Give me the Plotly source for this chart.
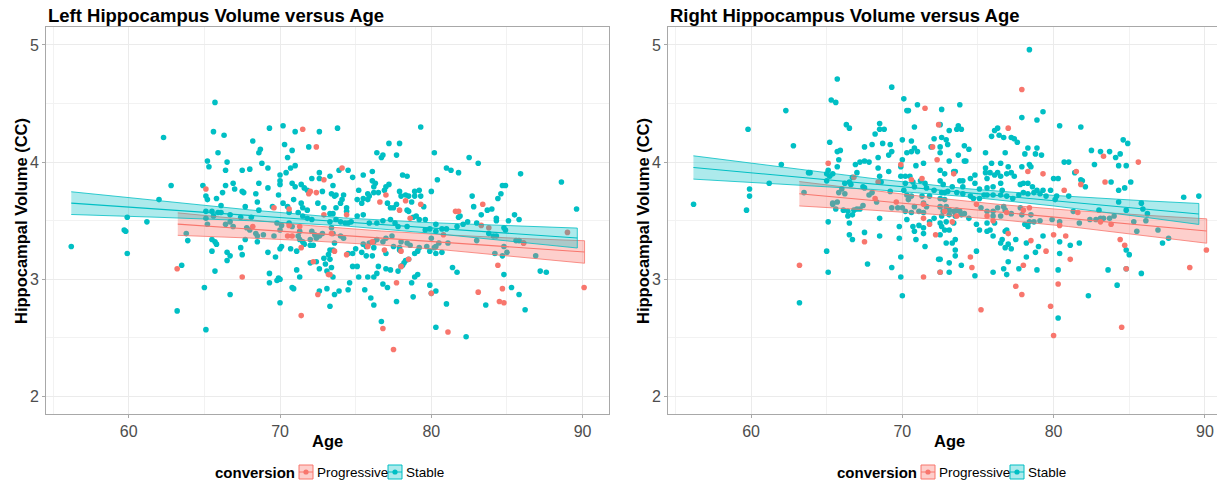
import plotly.graph_objects as go

# ---------------- data (age, volume) ----------------
left_stable = [
(65.7,4.51),(62.3,4.21),(65.6,4.26),(66.3,4.23),(69.3,4.29),(70.2,4.31),(71.0,4.26),(72.6,4.26),(68.2,4.18),(68.7,4.11),(68.6,4.08),(65.9,4.08),(70.3,4.15),(70.8,4.10),(71.9,4.13),(70.5,4.04),(65.2,4.01),(66.5,4.00),(65.3,3.96),(66.4,3.93),(67.5,3.93),(68.0,3.94),(68.8,3.99),(69.2,3.95),(71.0,3.97),(70.7,3.95),(70.4,3.91),(70.0,3.89),(70.0,3.84),(70.0,3.81),(62.8,3.80),(64.9,3.80),(66.4,3.80),(66.9,3.82),(67.0,3.77),(67.6,3.74),(67.5,3.75),(68.4,3.73),(68.6,3.82),(69.2,3.78),(66.2,3.74),(65.8,3.69),(65.1,3.71),(65.2,3.68),(70.8,3.82),(71.0,3.79),(71.4,3.81),(71.6,3.78),(71.8,3.76),(72.8,3.75),(72.6,3.86),(72.1,3.86),(73.3,3.88),(72.6,3.91),(62.0,3.68),(65.1,3.58),(65.5,3.58),(65.9,3.57),(66.1,3.57),(66.1,3.63),(65.6,3.54),(65.1,3.52),(65.2,3.47),(66.7,3.55),(66.7,3.49),(67.4,3.53),(67.7,3.62),(68.1,3.53),(68.5,3.66),(68.6,3.59),(69.5,3.62),(69.9,3.72),(70.2,3.65),(70.5,3.62),(70.6,3.57),(70.9,3.68),(71.4,3.65),(71.5,3.61),(71.2,3.57),(71.5,3.54),(71.8,3.59),(71.8,3.52),(72.1,3.51),(72.5,3.65),(72.9,3.61),(59.9,3.53),(61.2,3.49),(59.7,3.42),(59.8,3.41),(59.9,3.22),(56.2,3.28),(63.8,3.39),(63.9,3.33),(65.5,3.34),(65.7,3.32),(65.8,3.30),(65.5,3.24),(66.4,3.47),(66.9,3.45),(67.8,3.44),(68.0,3.42),(68.4,3.39),(68.5,3.37),(68.5,3.32),(67.7,3.34),(66.5,3.23),(66.7,3.20),(66.5,3.16),(67.5,3.21),(67.4,3.27),(68.9,3.38),(69.6,3.37),(70.0,3.42),(70.1,3.46),(69.8,3.48),(70.6,3.48),(70.8,3.45),(71.3,3.41),(71.2,3.37),(71.3,3.34),(71.5,3.32),(71.6,3.30),(72.1,3.41),(72.3,3.38),(72.6,3.37),(72.8,3.39),(72.4,3.35),(72.0,3.34),(69.2,3.23),(69.7,3.19),(70.0,3.26),(70.1,3.28),(70.7,3.26),(71.1,3.24),(72.0,3.29),(72.2,3.29),(63.5,3.12),(65.7,3.07),(65.0,2.93),(66.7,2.87),(69.3,3.05),(69.3,2.97),(69.8,2.99),(69.9,3.01),(70.0,3.00),(71.1,3.08),(71.3,3.02),(70.8,2.93),(70.9,2.92),(70.0,2.80),(72.0,3.14),(72.4,3.15),(72.6,3.09),(73.0,3.13),(73.1,3.07),(72.9,3.18),(73.2,3.21),(72.6,2.90),(73.1,2.92),(63.2,2.73),(65.1,2.57),
(73.8,4.29),(79.3,4.30),(77.2,4.16),(77.9,4.16),(77.7,4.06),(76.4,4.08),(76.7,4.04),(76.8,4.06),(80.2,4.08),(82.5,4.04),(83.1,3.99),(81.0,3.95),(81.3,3.93),(81.8,3.91),(85.9,3.90),(73.9,3.93),(74.5,3.93),(74.8,3.87),(75.5,3.89),(76.1,3.92),(76.1,3.84),(76.3,3.82),(76.2,3.79),(77.0,3.79),(77.2,3.81),(76.9,3.76),(77.9,3.75),(78.1,3.89),(78.4,3.88),(73.5,3.80),(73.4,3.73),(73.6,3.71),(73.7,3.72),(74.2,3.72),(74.1,3.68),(74.0,3.65),(73.7,3.61),(74.4,3.61),(74.4,3.58),(73.3,3.56),(73.5,3.56),(75.2,3.76),(75.1,3.68),(75.5,3.69),(75.9,3.71),(76.2,3.74),(75.8,3.73),(75.4,3.65),(75.8,3.68),(76.5,3.74),(77.1,3.65),(77.3,3.61),(77.5,3.61),(77.7,3.64),(78.0,3.71),(78.3,3.72),(78.5,3.71),(78.7,3.66),(78.4,3.59),(78.5,3.58),(78.9,3.71),(78.9,3.75),(79.2,3.76),(79.3,3.71),(79.5,3.62),(80.0,3.75),(80.4,3.85),(79.6,3.51),(79.0,3.54),(78.8,3.53),(82.7,3.71),(82.8,3.62),(83.3,3.55),(83.7,3.59),(84.0,3.60),(84.4,3.69),(84.6,3.73),(84.7,3.80),(84.9,3.80),(84.3,3.52),(84.3,3.50),(85.1,3.50),(85.5,3.55),(85.8,3.51),(88.6,3.83),(89.6,3.60),(81.8,3.53),(81.9,3.54),(81.7,3.45),(82.1,3.47),(82.4,3.49),(83.0,3.48),(83.8,3.39),(84.1,3.37),(84.3,3.37),(84.9,3.42),(84.8,3.44),(85.8,3.33),(85.6,3.33),(86.1,3.31),(83.0,3.33),(84.2,3.22),(84.7,3.20),(84.8,3.28),(85.0,3.23),(84.8,3.04),(86.9,3.20),
(73.3,3.49),(73.7,3.51),(74.0,3.49),(74.3,3.48),(74.5,3.48),(74.7,3.49),(75.1,3.54),(75.5,3.55),(75.9,3.48),(76.4,3.48),(76.8,3.50),(77.3,3.51),(77.6,3.48),(77.8,3.45),(78.4,3.45),(79.2,3.51),(79.6,3.42),(79.9,3.43),(80.3,3.47),(80.3,3.41),(80.7,3.43),(81.0,3.43),(81.1,3.31),(80.5,3.31),(80.3,3.28),(80.0,3.35),(79.7,3.28),(79.2,3.27),(78.6,3.29),(78.4,3.31),(78.0,3.32),(77.9,3.27),(77.5,3.28),(77.4,3.37),(77.0,3.35),(76.8,3.32),(76.4,3.34),(76.2,3.32),(75.9,3.31),(75.7,3.28),(75.5,3.30),(76.2,3.27),(75.7,3.20),(76.1,3.20),(73.4,3.44),(73.5,3.39),(74.2,3.35),(74.0,3.37),(73.6,3.31),(73.5,3.25),(73.3,3.25),(74.5,3.22),(74.8,3.22),(75.0,3.26),(75.4,3.23),(77.0,3.22),(77.9,3.25),(78.9,3.22),(79.1,3.24),(79.9,3.24),(80.2,3.27),(80.3,3.22),(80.7,3.23),
(73.3,3.17),(73.4,3.10),(73.5,3.02),(74.6,2.97),(74.8,3.11),(75.1,3.11),(75.2,3.02),(75.8,3.02),(76.2,3.02),(76.5,3.11),(76.4,3.05),(77.0,3.09),(77.3,3.08),(77.8,3.07),(78.0,3.11),(78.1,3.12),(78.2,3.14),(78.3,3.16),(78.5,3.17),(78.9,3.02),(79.1,3.04),(76.8,2.96),(77.1,2.93),(78.7,2.97),(79.9,2.95),(80.3,2.90),(80.0,2.88),(75.6,2.91),(74.5,2.91),(73.9,2.90),(73.6,2.87),(73.3,2.77),(76.0,2.84),(76.2,2.78),(77.7,2.81),(78.8,2.85),(81.0,2.79),(81.4,3.10),(81.7,3.06),(83.6,2.78),(85.3,2.93),(85.8,2.87),(86.2,2.74),(87.2,3.07),(87.6,3.06),(76.7,2.64),(80.3,2.59),(82.3,2.51),
]

left_progressive = [
(71.5,4.28),(72.4,4.13),(65.1,3.77),(71.9,3.73),(72.0,3.75),(72.4,3.74),(72.9,3.85),(69.6,3.61),(70.6,3.60),(72.9,3.55),(68.2,3.45),(70.6,3.46),(71.3,3.45),(70.5,3.37),(70.8,3.37),(71.4,3.27),(63.2,3.09),(67.5,3.02),(72.2,3.15),(73.2,3.04),(72.5,2.87),(71.4,2.69),
(74.1,3.95),(74.4,3.55),(76.6,3.66),(77.0,3.72),(77.9,3.59),(78.3,3.67),(79.3,3.64),(78.6,3.52),(83.4,3.64),(81.6,3.58),(81.8,3.58),(83.3,3.46),(83.8,3.44),(86.1,3.31),(84.4,3.12),(89.0,3.40),(80.8,3.38),(75.8,3.28),(76.1,3.32),(73.4,3.39),(73.6,3.24),(76.9,3.25),(78.0,3.24),(74.4,3.21),(73.3,3.04),(78.5,3.17),(78.0,3.11),(77.7,2.97),(80.0,2.88),(83.1,2.89),(84.7,2.92),(84.5,2.81),(84.8,2.80),(90.1,2.93),(76.8,2.58),(77.5,2.40),(81.1,2.55),
]

right_stable = [
(56.2,3.64),(59.7,3.59),(59.8,4.28),(59.9,3.77),(59.9,3.71),(61.2,3.82),(62.3,4.44),(62.8,4.14),(62.0,3.98),(63.2,2.80),(63.5,3.74),(63.8,3.91),(63.9,3.91),(65.7,4.71),(65.3,4.53),(65.6,4.51),(66.3,4.32),(66.5,4.29),(65.2,4.17),(65.7,4.09),(65.9,4.10),(65.8,4.02),(65.7,3.96),(65.1,3.93),(65.0,3.90),(65.0,3.84),(65.4,3.90),(65.2,3.88),(66.9,3.98),(67.2,4.00),(67.5,4.01),(67.8,4.00),(67.5,4.13),(68.0,4.15),(68.2,4.24),(68.5,4.33),(68.5,4.28),(68.8,4.28),(68.7,4.16),(69.2,4.15),(69.3,4.64),(70.1,4.54),(70.3,4.44),(70.4,4.44),(71.0,4.49),(70.8,4.30),(70.0,4.19),(70.6,4.18),(70.8,4.12),(71.0,4.09),(70.6,4.09),(70.3,4.08),(70.0,4.02),(69.9,3.96),(69.9,3.88),(70.2,3.88),(70.5,3.88),(70.9,3.97),(71.4,3.99),(69.3,4.09),(69.1,4.06),(68.4,4.04),(68.4,3.95),(68.5,3.88),(68.6,3.83),(69.1,3.92),(66.7,3.87),(67.0,3.91),(66.2,3.82),(66.5,3.83),(66.6,3.81),(66.0,3.77),(66.2,3.73),(65.8,3.74),(65.4,3.65),(65.4,3.64),(65.7,3.66),(65.6,3.60),(66.1,3.59),(66.4,3.58),(66.4,3.54),(66.8,3.59),(66.7,3.55),(67.0,3.60),(67.2,3.60),(67.4,3.63),(67.4,3.79),(67.5,3.78),(67.8,3.72),(68.0,3.74),(68.3,3.66),(68.5,3.52),(69.2,3.75),(69.3,3.61),(69.7,3.61),(70.0,3.61),(70.2,3.58),(70.6,3.57),(70.4,3.68),(70.3,3.72),(70.7,3.83),(70.2,3.82),(70.1,3.76),(70.6,3.71),(70.8,3.79),(71.2,3.84),(71.5,3.82),(71.3,3.71),(71.4,3.65),(71.6,3.62),(70.8,3.62),(71.1,3.58),(71.4,3.57),(71.8,3.71),(71.6,3.78),(72.1,3.76),(65.1,3.49),(66.5,3.48),(66.5,3.38),(66.7,3.34),(67.5,3.40),(68.5,3.37),(69.8,3.45),(69.8,3.35),(70.3,3.51),(70.7,3.45),(70.8,3.41),(70.9,3.34),(71.1,3.46),(71.4,3.44),(71.4,3.39),(71.5,3.28),(71.8,3.49),(72.1,3.52),(65.0,3.24),(65.1,3.06),(67.7,3.13),(69.3,3.10),(69.9,3.19),(69.9,3.02),(70.0,2.86),(72.4,3.17),(71.9,4.13),(72.1,4.20),
(78.4,4.96),(73.8,4.49),(72.6,4.45),(77.9,4.38),(78.9,4.36),(79.3,4.43),(80.4,4.31),(81.8,4.30),(76.3,4.29),(76.1,4.27),(75.9,4.22),(76.4,4.23),(77.2,4.21),(77.4,4.20),(77.6,4.17),(76.7,4.21),(72.5,4.32),(73.1,4.27),(73.7,4.31),(73.9,4.28),(73.6,4.28),(72.6,4.21),(72.9,4.19),(73.0,4.15),(74.1,4.14),(74.4,4.11),(72.5,4.13),(72.5,4.08),(73.1,4.01),(73.7,4.06),(74.2,4.01),(74.8,3.89),(75.5,4.08),(75.5,3.95),(75.5,3.91),(75.9,3.99),(76.5,3.99),(76.8,4.08),(77.0,3.96),(77.2,3.91),(76.9,3.90),(76.3,3.91),(76.5,3.88),(76.1,3.89),(75.8,3.91),(75.6,3.86),(77.4,3.88),(77.9,3.96),(78.1,4.07),(78.3,4.12),(78.9,4.12),(78.8,4.07),(79.2,4.06),(78.4,3.98),(78.5,3.96),(80.0,3.86),(80.3,3.86),(80.7,4.00),(81.0,4.00),(81.4,3.91),(81.8,3.85),(81.9,3.84),(82.1,3.79),(82.5,4.10),(82.7,3.98),(83.1,4.09),(83.7,4.09),(84.1,4.04),(84.4,4.07),(84.6,4.19),(84.9,4.16),(84.3,3.97),(84.8,3.97),(83.8,3.83),(84.3,3.76),(85.1,3.83),(84.7,3.78),(72.5,3.93),(72.8,3.90),(73.4,3.92),(73.5,3.92),(74.1,4.01),(74.5,3.86),(74.0,3.84),(73.8,3.84),(74.0,3.79),(73.3,3.79),(72.7,3.81),(72.5,3.84),(74.8,3.82),(75.1,3.77),(75.6,3.78),(76.0,3.79),(76.5,3.82),(76.6,3.76),(77.8,3.81),(78.0,3.82),(78.3,3.82),(78.6,3.79),(78.9,3.76),(79.3,3.76),(79.8,3.76),(79.1,3.73),(78.7,3.74),(78.3,3.73),(78.0,3.74),(77.7,3.72),(77.3,3.69),(76.9,3.71),(76.5,3.72),(76.0,3.72),(75.6,3.72),(75.4,3.72),(75.1,3.69),(74.7,3.69),(74.5,3.71),(74.0,3.73),(73.6,3.74),(73.0,3.75),(72.8,3.74),(72.6,3.74),(72.5,3.69),(72.8,3.68),(79.5,3.71),(80.2,3.71),(81.0,3.71),(80.1,3.68),
(72.5,3.62),(72.7,3.58),(72.9,3.62),(73.1,3.59),(73.4,3.58),(73.6,3.59),(73.8,3.58),(73.9,3.55),(73.5,3.54),(73.1,3.55),(72.6,3.54),(72.9,3.49),(73.4,3.48),(74.1,3.56),(74.4,3.52),(75.2,3.61),(75.6,3.58),(76.0,3.58),(76.3,3.61),(76.7,3.62),(76.8,3.59),(76.5,3.54),(76.0,3.54),(77.2,3.56),(77.8,3.61),(77.9,3.55),(78.5,3.55),(78.4,3.49),(78.7,3.49),(79.1,3.50),(79.9,3.51),(80.4,3.49),(81.3,3.58),(81.7,3.48),(82.4,3.51),(82.8,3.51),(83.0,3.59),(83.1,3.52),(83.3,3.52),(83.7,3.52),(84.0,3.54),(84.3,3.66),(84.8,3.59),(85.3,3.49),(85.5,3.41),(85.8,3.65),(85.9,3.60),(86.2,3.56),(86.1,3.50),(86.9,3.42),(88.6,3.70),(89.6,3.71),
(72.5,3.48),(72.6,3.45),(72.8,3.42),(73.1,3.42),(72.5,3.38),(72.9,3.31),(73.3,3.31),(73.5,3.34),(73.5,3.25),(73.5,3.20),(72.5,3.17),(73.1,3.14),(73.1,3.06),(72.5,3.06),(74.9,3.47),(74.9,3.24),(75.1,3.42),(75.6,3.48),(75.6,3.41),(75.8,3.42),(76.0,3.37),(76.1,3.48),(76.5,3.31),(76.6,3.34),(76.8,3.41),(76.9,3.42),(76.8,3.27),(77.0,3.30),(77.2,3.26),(77.0,3.15),(77.5,3.34),(78.2,3.31),(78.1,3.47),(78.2,3.19),(78.3,3.45),(78.8,3.23),(79.0,3.28),(79.3,3.37),(80.4,3.32),(80.4,3.22),(81.1,3.29),(81.7,3.31),(80.3,3.08),(78.9,3.08),(77.7,3.09),(76.9,3.04),(76.7,3.09),(76.0,3.06),(74.8,3.03),(73.9,3.12),(83.6,3.08),(84.8,3.09),(85.8,3.05),(87.2,3.31),(87.6,3.35),(84.8,3.25),(85.0,3.21),(84.2,2.95),(82.3,2.86),(80.3,2.67),
]

right_progressive = [
(63.2,3.12),(65.1,3.99),(66.8,3.87),(68.4,3.83),(68.2,3.69),(69.6,3.66),(70.6,3.85),(71.3,3.86),(71.4,3.64),(67.5,3.32),(71.4,3.52),(71.8,3.47),(72.2,3.38),(71.4,3.02),(72.5,3.06),(71.5,4.46),(72.4,4.32),(72.0,4.13),(72.3,4.02),(69.9,3.98),
(77.9,4.62),(77.0,4.29),(78.3,3.92),(79.3,3.90),(80.7,3.76),(81.5,3.92),(81.8,3.81),(83.3,4.05),(85.6,4.00),(83.4,3.83),(73.4,3.90),(72.8,3.58),(73.3,3.49),(73.6,3.54),(74.9,3.64),(75.6,3.54),(76.0,3.50),(76.9,3.57),(78.0,3.59),(78.4,3.61),(80.4,3.46),(81.6,3.57),(83.1,3.49),(83.8,3.47),(78.5,3.33),(77.0,3.39),(79.5,3.24),(80.0,3.38),(80.8,3.37),(81.1,3.17),(78.0,3.12),(74.5,3.19),(74.6,3.10),(84.8,3.09),(84.4,3.34),(84.7,3.29),(89.0,3.10),(90.1,3.25),(80.3,2.96),(79.8,2.77),(80.0,2.52),(77.9,2.87),(77.5,2.94),(75.2,2.74),(84.5,2.59),
]

# linear fits with 95% confidence band (age, fit, lower, upper)
left_stable_fit_age = [56.2, 62, 68, 74.2, 80, 86, 89.65]
left_stable_fit = [3.650, 3.599, 3.546, 3.490, 3.438, 3.385, 3.352]
left_stable_lo = [3.553, 3.529, 3.500, 3.456, 3.393, 3.316, 3.267]
left_stable_hi = [3.747, 3.669, 3.592, 3.524, 3.483, 3.454, 3.437]

left_prog_fit_age = [63.24, 68, 72, 76.7, 81, 86, 90.13]
left_prog_fit = [3.471, 3.429, 3.393, 3.352, 3.314, 3.269, 3.233]
left_prog_lo = [3.375, 3.352, 3.328, 3.292, 3.249, 3.190, 3.137]
left_prog_hi = [3.567, 3.506, 3.458, 3.412, 3.379, 3.348, 3.329]

right_stable_fit_age = [56.19, 62, 68, 74.2, 80, 86, 89.6]
right_stable_fit = [3.954, 3.885, 3.814, 3.740, 3.671, 3.600, 3.557]
right_stable_lo = [3.855, 3.813, 3.767, 3.706, 3.626, 3.530, 3.468]
right_stable_hi = [4.054, 3.957, 3.861, 3.774, 3.716, 3.670, 3.647]

right_prog_fit_age = [63.19, 68, 72, 76.65, 81, 86, 90.12]
right_prog_fit = [3.730, 3.673, 3.626, 3.571, 3.520, 3.461, 3.412]
right_prog_lo = [3.626, 3.590, 3.555, 3.506, 3.450, 3.375, 3.308]
right_prog_hi = [3.834, 3.756, 3.697, 3.636, 3.590, 3.547, 3.516]

x_ticks = [60, 70, 80, 90]
y_ticks = [2, 3, 4, 5]
groups = ["Progressive", "Stable"]

# ---------------- style ----------------
# The page body has an 8px margin, so the figure is drawn 8px in from the
# window corner; screen pixel positions are converted accordingly.
OFF = 8
W, H = 1225 - OFF, 481 - OFF
RED, TEAL = "#F8766D", "#00BFC4"
RED_FILL, TEAL_FILL = "rgba(248,118,109,0.35)", "rgba(0,191,196,0.32)"
FONT = "Liberation Sans, Arial, Helvetica, sans-serif"


def px(x):
    return (x - OFF) / W


def py(y):
    return 1 - (y - OFF) / H


fig = go.Figure()


def add_points(data, color, xa, ya):
    fig.add_trace(go.Scatter(
        x=[d[0] for d in data], y=[d[1] for d in data], mode="markers",
        marker=dict(color=color, size=5.6, line=dict(width=0)),
        xaxis=xa, yaxis=ya, showlegend=False, hoverinfo="skip"))


def add_smooth(ages, fit, lo, hi, color, fill, xa, ya):
    fig.add_trace(go.Scatter(
        x=ages + ages[::-1], y=hi + lo[::-1], mode="lines", fill="toself",
        fillcolor=fill, line=dict(color=color, width=0.8),
        xaxis=xa, yaxis=ya, showlegend=False, hoverinfo="skip"))
    fig.add_trace(go.Scatter(
        x=ages, y=fit, mode="lines", line=dict(color=color, width=1.1),
        xaxis=xa, yaxis=ya, showlegend=False, hoverinfo="skip"))


add_points(left_stable, TEAL, "x", "y")
add_points(left_progressive, RED, "x", "y")
add_smooth(left_prog_fit_age, left_prog_fit, left_prog_lo, left_prog_hi, RED, RED_FILL, "x", "y")
add_smooth(left_stable_fit_age, left_stable_fit, left_stable_lo, left_stable_hi, TEAL, TEAL_FILL, "x", "y")

add_points(right_stable, TEAL, "x2", "y2")
add_points(right_progressive, RED, "x2", "y2")
add_smooth(right_prog_fit_age, right_prog_fit, right_prog_lo, right_prog_hi, RED, RED_FILL, "x2", "y2")
add_smooth(right_stable_fit_age, right_stable_fit, right_stable_lo, right_stable_hi, TEAL, TEAL_FILL, "x2", "y2")

axis_common = dict(
    showgrid=True, gridcolor="#EBEBEB", gridwidth=1, zeroline=False,
    showline=True, linecolor="#A8A8A8", linewidth=1,
    ticks="outside", ticklen=3, tickcolor="#A8A8A8", tickwidth=1,
    tickfont=dict(family=FONT, size=16, color="#4D4D4D"),
    automargin=False, fixedrange=True,
)
ydom = [py(414), py(27.4)]
minor_x = dict(tickvals=[55, 65, 75, 85], showgrid=True, gridcolor="#F2F2F2", gridwidth=1, ticks="")
minor_y = dict(tickvals=[2.5, 3.5, 4.5], showgrid=True, gridcolor="#F2F2F2", gridwidth=1, ticks="")

fig.update_layout(
    width=W, height=H, margin=dict(l=0, r=0, t=0, b=0),
    paper_bgcolor="white", plot_bgcolor="white", showlegend=False,
    xaxis=dict(axis_common, domain=[px(46), px(609)], range=[54.53, 91.745],
               tickvals=x_ticks, mirror=True, anchor="y", minor=minor_x),
    yaxis=dict(axis_common, domain=ydom, range=[1.85, 5.15], tickvals=y_ticks,
               mirror=True, anchor="x", minor=minor_y),
    xaxis2=dict(axis_common, domain=[px(668), 1.0], range=[54.51, 91.33],
                tickvals=x_ticks, mirror=True, anchor="y2", minor=minor_x),
    yaxis2=dict(axis_common, domain=ydom, range=[1.85, 5.15], tickvals=y_ticks,
                mirror=False, anchor="x2", minor=minor_y),
)

ann = []
shapes = []


def text(x, y, s, size, anchor="left", angle=0, color="black"):
    ann.append(dict(x=px(x), y=py(y), xref="paper", yref="paper", text=s,
                    showarrow=False, xanchor=anchor, yanchor="middle", textangle=angle,
                    font=dict(family=FONT, size=size, color=color)))


for off, title in [(0, "Left Hippocampus Volume versus Age"), (622, "Right Hippocampus Volume versus Age")]:
    text(46 + off, 16, "<b>" + title + "</b>", 18.5)
    text(21 + off, 221, "<b>Hippocampal Volume (CC)</b>", 16.5, anchor="center", angle=-90)
    text(327.5 + off, 441, "<b>Age</b>", 16.5, anchor="center")
    # legend
    text(213 + off, 472, "<b>conversion</b>", 15)
    for kx, lab, col, fcol, tx in [(299, groups[0], RED, RED_FILL, 315), (388, groups[1], TEAL, TEAL_FILL, 404)]:
        x0, x1 = px(kx + off), px(kx + 14 + off)
        y0, y1 = py(479), py(465)
        shapes.append(dict(type="rect", xref="paper", yref="paper", x0=x0, x1=x1, y0=y0, y1=y1,
                           fillcolor=fcol, line=dict(color=col, width=1)))
        shapes.append(dict(type="line", xref="paper", yref="paper", x0=x0, x1=x1, y0=py(472), y1=py(472),
                           line=dict(color=col, width=1)))
        shapes.append(dict(type="circle", xref="paper", yref="paper",
                           x0=px(kx + 7 - 2.6 + off), x1=px(kx + 7 + 2.6 + off),
                           y0=py(472 + 2.6), y1=py(472 - 2.6), fillcolor=col, line=dict(width=0)))
        text(tx + off, 472, lab, 13.5)

fig.update_layout(annotations=ann, shapes=shapes)
fig.write_html("out.html")
